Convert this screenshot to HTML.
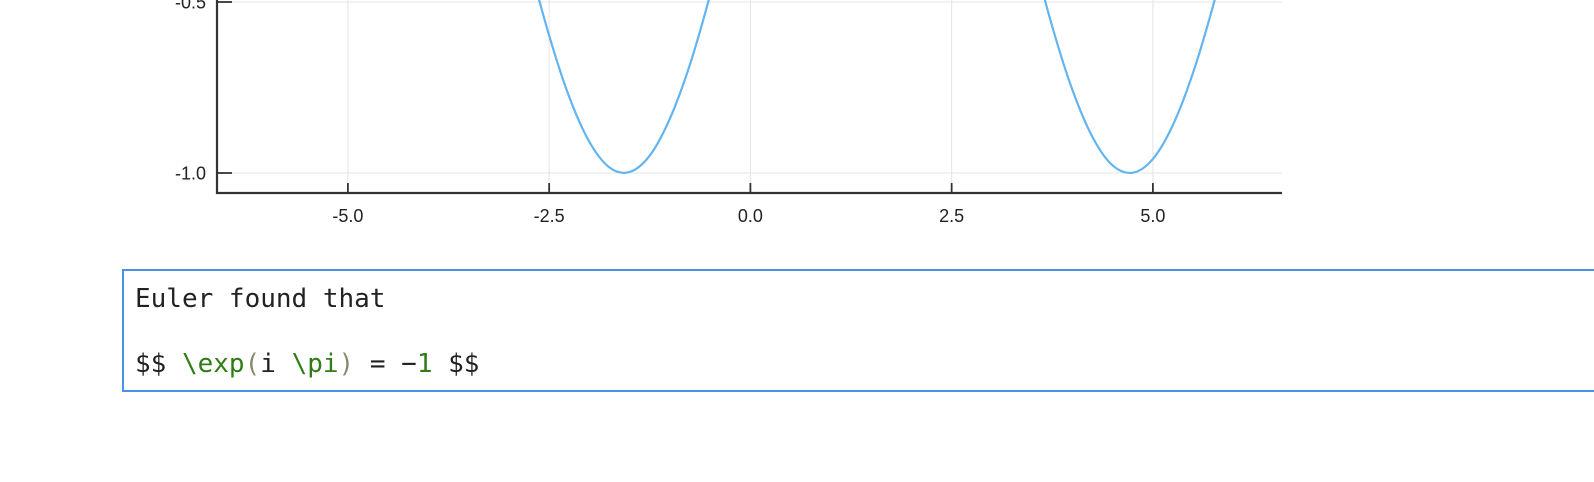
<!DOCTYPE html>
<html><head><meta charset="utf-8"><style>
html,body{margin:0;padding:0;background:#fff;width:1594px;height:482px;overflow:hidden;position:relative}
svg{position:absolute;left:0;top:0}
.box{position:absolute;left:122px;top:269px;width:1490px;height:123px;border:2px solid #4a92e6;box-sizing:border-box;font-family:"DejaVu Sans Mono","Liberation Mono",monospace;font-size:26px;line-height:26px;color:#222}
.l{position:absolute;left:11px;white-space:pre}
.g{color:#2f7d14}.p{color:#8a8a70}
</style></head><body>
<svg width="1594" height="262">
<g id="grid"></g><g id="curve"></g><g id="axes"></g>
</svg>
<div class="box">
<div class="l" style="top:15px">Euler found that</div>
<div class="l" style="top:80px">$$ <span class="g">\exp</span><span class="p">(</span>i <span class="g">\pi</span><span class="p">)</span> = −<span class="g">1</span> $$</div>
</div>
<script>
const xTicks=[-5,-2.5,0,2.5,5];
const xTickLabels=["-5.0","-2.5","0.0","2.5","5.0"];
const yTicks=[-1.0,-0.5];
const yTickLabels=["-1.0","-0.5"];
const xs=[-6.5,-6.25,-6,-5.75,-5.5,-5.25,-5,-4.75,-4.5,-4.25,-4,-3.75,-3.5,-3.25,-3,-2.75,-2.5,-2.25,-2,-1.75,-1.5,-1.25,-1,-0.75,-0.5,-0.25,0,0.25,0.5,0.75,1,1.25,1.5,1.75,2,2.25,2.5,2.75,3,3.25,3.5,3.75,4,4.25,4.5,4.75,5,5.25,5.5,5.75,6,6.25,6.5];
const ys=[-0.215,0.033,0.279,0.509,0.706,0.859,0.959,0.999,0.978,0.895,0.757,0.572,0.351,0.108,-0.141,-0.382,-0.598,-0.778,-0.909,-0.984,-0.997,-0.949,-0.841,-0.682,-0.479,-0.247,0,0.247,0.479,0.682,0.841,0.949,0.997,0.984,0.909,0.778,0.598,0.382,0.141,-0.108,-0.351,-0.572,-0.757,-0.895,-0.978,-0.999,-0.959,-0.859,-0.706,-0.509,-0.279,-0.033,0.215];
const NS="http://www.w3.org/2000/svg";
const X=v=>750.4+v*80.5, Y=v=>173-(v+1)*342;
const L=217,R=1282,B=193;
function mk(p,t,a){const e=document.createElementNS(NS,t);for(const k in a)e.setAttribute(k,a[k]);p.appendChild(e);return e;}
const grid=document.getElementById('grid'),axes=document.getElementById('axes'),curve=document.getElementById('curve');
xTicks.forEach((t,i)=>{
 const gl=mk(grid,'line',{x1:X(t),x2:X(t),y1:0,y2:B,stroke:'#e4e4e4','stroke-width':1});
 
 
 const tk=mk(axes,'line',{x1:X(t),x2:X(t),y1:B-10,y2:B,stroke:'#333','stroke-width':1.8});
 
 
 const tx=mk(axes,'text',{x:X(t),y:B+29,'text-anchor':'middle','font-family':'Liberation Sans, sans-serif','font-size':18,fill:'#222'});
 tx.textContent=xTickLabels[i];
 
 
});
yTicks.forEach((t,i)=>{
 const gl=mk(grid,'line',{x1:L,x2:R,y1:Y(t),y2:Y(t),stroke:'#e4e4e4','stroke-width':1});
 
 
 const tk=mk(axes,'line',{x1:L,x2:L+15,y1:Y(t),y2:Y(t),stroke:'#333','stroke-width':1.8});
 
 
 const tx=mk(axes,'text',{x:L-11,y:Y(t)+6.5,'text-anchor':'end','font-family':'Liberation Sans, sans-serif','font-size':18,fill:'#222'});
 tx.textContent=yTickLabels[i];
 
 
});
const ax=mk(axes,'path',{d:`M${L},0 V${B} H${R}`,fill:'none',stroke:'#333','stroke-width':2.2});


const P=xs.map((x,i)=>[X(x),Y(ys[i])]);
let d=`M${P[0][0]},${P[0][1]}`;
for(let i=0;i<P.length-1;i++){
 const p0=P[Math.max(0,i-1)],p1=P[i],p2=P[i+1],p3=P[Math.min(P.length-1,i+2)];
 d+=` C${p1[0]+(p2[0]-p0[0])/6},${p1[1]+(p2[1]-p0[1])/6} ${p2[0]-(p3[0]-p1[0])/6},${p2[1]-(p3[1]-p1[1])/6} ${p2[0]},${p2[1]}`;
}
const cp=mk(curve,'path',{d:d,fill:'none',stroke:'#62b5f0','stroke-width':2.2});


</script>
</body></html>
